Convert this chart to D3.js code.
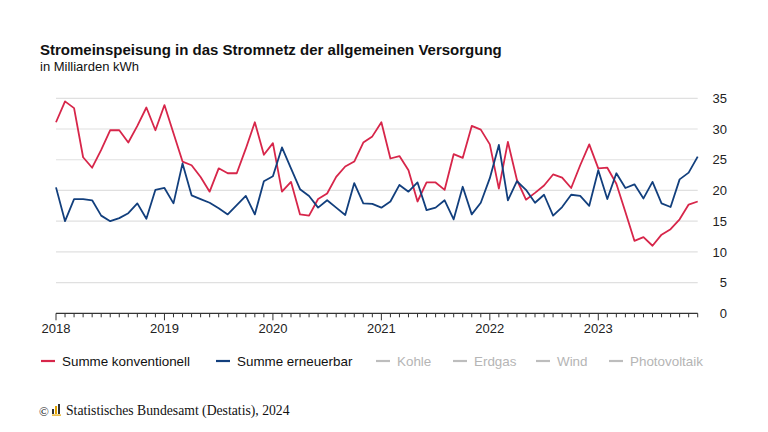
<!DOCTYPE html>
<html>
<head>
<meta charset="utf-8">
<script src="https://cdn.jsdelivr.net/npm/d3@7"></script>
<style>
  html, body { margin: 0; padding: 0; background: #fff; }
  svg { display: block; }
</style>
</head>
<body>
<svg id="chart" width="768" height="432"></svg>
<script>
// ---- Data ----
const years = ["2018", "2019", "2020", "2021", "2022", "2023"];
const yTicks = [0, 5, 10, 15, 20, 25, 30, 35];
const konventionell = [
  31.1, 34.5, 33.4, 25.4, 23.7, 26.6, 29.8, 29.8, 27.8, 30.5, 33.5, 29.8,
  33.9, 29.3, 24.7, 24.1, 22.2, 19.8, 23.6, 22.8, 22.8, 26.8, 31.1, 25.8,
  27.7, 19.8, 21.4, 16.1, 15.9, 18.6, 19.5, 22.2, 23.9, 24.7, 27.8, 28.8,
  31.1, 25.2, 25.6, 23.3, 18.2, 21.3, 21.3, 20.1, 25.9, 25.3, 30.5, 29.9,
  27.5, 20.3, 27.9, 21.7, 18.5, 19.6, 20.8, 22.6, 22.1, 20.4, 24.1, 27.5,
  23.6, 23.7, 21.1, 16.5, 11.8, 12.4, 11.0, 12.8, 13.7, 15.3, 17.7, 18.2
];
const erneuerbar = [
  20.5, 15.0, 18.6, 18.6, 18.4, 15.9, 15.0, 15.5, 16.3, 17.9, 15.4, 20.1,
  20.4, 17.9, 24.4, 19.2, 18.6, 18.0, 17.1, 16.1, 17.6, 19.1, 16.1, 21.5,
  22.3, 27.0, 23.6, 20.2, 19.1, 17.2, 18.4, 17.2, 16.0, 21.2, 17.9, 17.8,
  17.2, 18.2, 20.9, 19.8, 21.3, 16.8, 17.2, 18.4, 15.3, 20.6, 16.1, 18.0,
  22.0, 27.4, 18.4, 21.5, 20.1, 18.0, 19.3, 15.9, 17.3, 19.3, 19.1, 17.5,
  23.3, 18.6, 22.8, 20.4, 21.0, 18.7, 21.4, 17.9, 17.3, 21.8, 22.9, 25.5
];
const legendItems = [
  { name: "Summe konventionell", active: true },
  { name: "Summe erneuerbar", active: true },
  { name: "Kohle", active: false },
  { name: "Erdgas", active: false },
  { name: "Wind", active: false },
  { name: "Photovoltaik", active: false }
];
const title = "Stromeinspeisung in das Stromnetz der allgemeinen Versorgung";
const subtitle = "in Milliarden kWh";
const source = "Statistisches Bundesamt (Destatis), 2024";

// ---- Styles ----
const RED = "#d7264a";
const BLUE = "#123f7d";
const GREY = "#bdbdbd";
const FONT = "'Liberation Sans', Arial, sans-serif";

const svg = d3.select("#chart");
const nMonths = konventionell.length;

const x = d3.scaleLinear().domain([0, nMonths - 1]).range([56, 697.7]);
const y = d3.scaleLinear().domain([0, 35]).range([313.3, 98.3]);

// Title
svg.append("text").attr("x", 40).attr("y", 55)
  .attr("font-family", FONT).attr("font-weight", "bold").attr("font-size", 15)
  .attr("fill", "#111").text(title);
svg.append("text").attr("x", 40).attr("y", 71)
  .attr("font-family", FONT).attr("font-size", 13)
  .attr("fill", "#111").text(subtitle);

// Gridlines
svg.append("g").selectAll("line")
  .data(yTicks.filter(d => d > 0))
  .join("line")
  .attr("x1", x(0)).attr("x2", x(nMonths - 1))
  .attr("y1", d => y(d)).attr("y2", d => y(d))
  .attr("stroke", "#e0e0e0").attr("stroke-width", 1.2);

// Y axis labels (right)
const yAxis = d3.axisRight(y).tickValues(yTicks).tickSize(0).tickPadding(0);
const gy = svg.append("g").attr("transform", "translate(727,0)").call(yAxis);
gy.select(".domain").remove();
gy.selectAll("text").attr("text-anchor", "end")
  .attr("font-family", FONT).attr("font-size", 13).attr("fill", "#222");

// X axis: month ticks
const monthIdx = d3.range(nMonths);
const gx = svg.append("g").attr("transform", `translate(0,${y(0)})`);
gx.append("line").attr("x1", x(0)).attr("x2", x(nMonths - 1))
  .attr("y1", 0).attr("y2", 0).attr("stroke", "#333").attr("stroke-width", 1.3);
gx.selectAll("line.tick").data(monthIdx).join("line")
  .attr("class", "tick")
  .attr("x1", d => x(d)).attr("x2", d => x(d))
  .attr("y1", 0).attr("y2", d => d % 12 === 0 ? 7 : 4)
  .attr("stroke", "#333").attr("stroke-width", 1);
gx.selectAll("text").data(years).join("text")
  .attr("x", (d, i) => x(i * 12)).attr("y", 20)
  .attr("text-anchor", "middle")
  .attr("font-family", FONT).attr("font-size", 13).attr("fill", "#222")
  .text(d => d);

// Lines
const line = d3.line().x((d, i) => x(i)).y(d => y(d));
svg.append("path").datum(konventionell).attr("d", line)
  .attr("fill", "none").attr("stroke", RED).attr("stroke-width", 1.8)
  .attr("stroke-linejoin", "round");
svg.append("path").datum(erneuerbar).attr("d", line)
  .attr("fill", "none").attr("stroke", BLUE).attr("stroke-width", 1.8)
  .attr("stroke-linejoin", "round");

// Legend
const legendX = [41, 216, 376, 453, 536, 609];
const legColors = [RED, BLUE, GREY, GREY, GREY, GREY];
const lg = svg.append("g");
legendItems.forEach((item, i) => {
  const g = lg.append("g").attr("transform", `translate(${legendX[i]},361)`);
  g.append("line").attr("x1", 0).attr("x2", 14).attr("y1", 0).attr("y2", 0)
    .attr("stroke", legColors[i]).attr("stroke-width", 2.2);
  g.append("text").attr("x", 21).attr("y", 4.5)
    .attr("font-family", FONT).attr("font-size", 13.4)
    .attr("fill", item.active ? "#111" : "#b5b5b5").text(item.name);
});

// Footer
const fg = svg.append("g");
fg.append("text").attr("x", 39).attr("y", 416)
  .attr("font-family", "'Liberation Serif', 'Times New Roman', serif")
  .attr("font-size", 13).attr("fill", "#111").text("©");
// small Destatis logo
const logo = fg.append("g").attr("transform", "translate(52,404)");
logo.append("rect").attr("x", 0).attr("y", 5).attr("width", 2).attr("height", 5).attr("fill", "#333");
logo.append("rect").attr("x", 3).attr("y", 2).attr("width", 2).attr("height", 8).attr("fill", "#e3a400");
logo.append("rect").attr("x", 6).attr("y", 0).attr("width", 2).attr("height", 10).attr("fill", "#333");
logo.append("rect").attr("x", 0).attr("y", 10.5).attr("width", 9).attr("height", 1.2).attr("fill", "#e3a400");
fg.append("text").attr("x", 66).attr("y", 415)
  .attr("font-family", "'Liberation Serif', 'Times New Roman', serif")
  .attr("font-size", 13.7).attr("fill", "#111").text(source);
</script>
</body>
</html>
